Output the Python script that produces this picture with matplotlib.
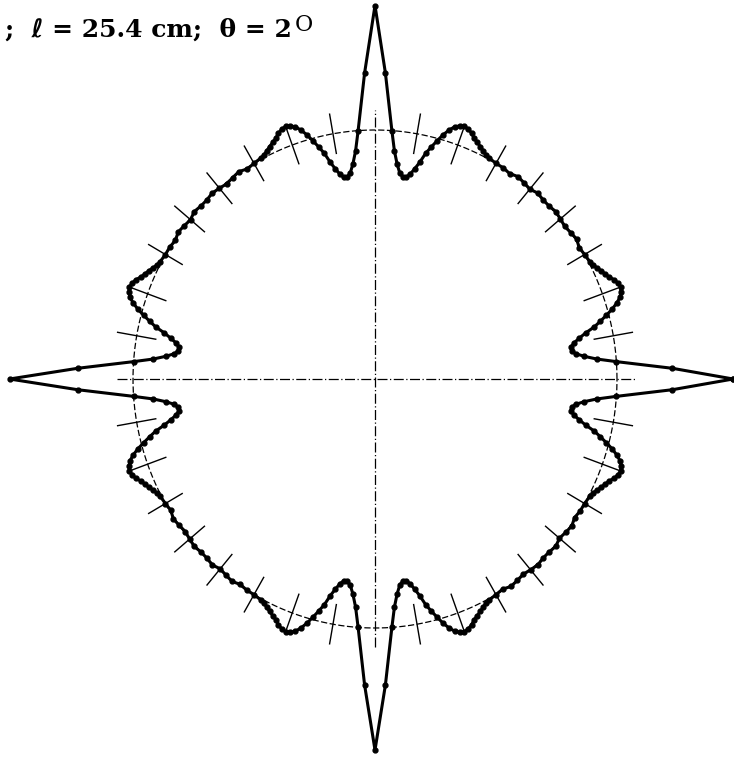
import numpy as np
import matplotlib
matplotlib.use("Agg")
import matplotlib.pyplot as plt

# measured pattern over one quadrant, angle (deg) from the lobe axis
quad_angles = [0, 2, 4, 5, 6, 7, 8, 9, 10, 11, 12, 13, 14, 15, 16, 17, 18,
               19, 20, 21, 22, 23, 24, 25, 26, 27, 28, 30, 32, 34, 36, 38,
               40, 42, 44, 46, 48, 50, 52, 54, 56, 58, 60, 62, 63, 64, 65,
               66, 67, 68, 69, 70, 71, 72, 73, 74, 75, 76, 77, 78, 79, 80,
               81, 82, 83, 84, 85, 86, 88]
quad_radii = [1.50, 1.23, 1.00, 0.92, 0.87, 0.835, 0.82, 0.82, 0.835, 0.86,
              0.89, 0.93, 0.96, 0.99, 1.02, 1.045, 1.065, 1.075, 1.08, 1.075,
              1.065, 1.05, 1.04, 1.03, 1.02, 1.01, 1.005, 1.0, 0.995, 1.005,
              1.0, 0.995, 1.0, 1.005, 1.0, 1.0, 1.005, 0.995, 1.0, 1.005,
              0.995, 1.0, 1.0, 1.005, 1.01, 1.02, 1.03, 1.04, 1.05, 1.065,
              1.075, 1.08, 1.075, 1.065, 1.045, 1.02, 0.99, 0.96, 0.93, 0.89,
              0.86, 0.835, 0.82, 0.82, 0.835, 0.87, 0.92, 1.00, 1.23]
# main lobes at 0, 90, 180, 270 deg
lobe_dirs = [0, 90, 180, 270]
lobe_tips = [1.48, 1.50, 1.51, 1.49]

tick_angles = [a for a in range(0, 360, 10) if a % 90 != 0]
label = ";  \u2113 = 25.4 cm;  \u03b8 = 2"

W, H = 734, 758
cx, cy = 375, 379
sx, sy = 242, 249
fonts = ["DejaVu Serif", "DejaVu Sans"]


def pattern():
    th, r = [], []
    for d, tip in zip(lobe_dirs, lobe_tips):
        for a, v in zip(quad_angles, quad_radii):
            th.append(d + a)
            r.append(tip if a == 0 else v)
    th.append(360)
    r.append(lobe_tips[0])
    th = np.radians(th)
    r = np.array(r)
    return r * np.cos(th), r * np.sin(th)


def main():
    fig = plt.figure(figsize=(W / 100, H / 100), dpi=100)
    ax = fig.add_axes([0, 0, 1, 1])
    ax.set_xlim(-cx / sx, (W - cx) / sx)
    ax.set_ylim(-(H - cy) / sy, cy / sy)
    ax.axis("off")

    t = np.linspace(0, 2 * np.pi, 721)
    ax.plot(np.cos(t), np.sin(t), color="black", lw=0.9, ls=(0, (5, 2)))
    ax.plot([-1.065, 1.08], [0, 0], color="black", lw=0.9, ls=(0, (8, 2, 1, 2)))
    ax.plot([0, 0], [-1.076, 1.08], color="black", lw=0.9, ls=(0, (8, 2, 1, 2)))

    for a in tick_angles:
        c, s = np.cos(np.radians(a)), np.sin(np.radians(a))
        ax.plot([0.92 * c, 1.08 * c], [0.92 * s, 1.08 * s], color="black", lw=1.0)

    x, y = pattern()
    ax.plot(x, y, color="black", lw=2.2, marker="o", markersize=3.5)

    fig.text(292 / W, 1 - 37 / H, label, ha="right", va="baseline",
             fontsize=18, family=fonts, fontweight="bold")
    fig.text(295 / W, 1 - 31 / H, "O", ha="left", va="baseline",
             fontsize=16, family=fonts)

    fig.savefig("out.png", dpi=100)


if __name__ == "__main__":
    main()
